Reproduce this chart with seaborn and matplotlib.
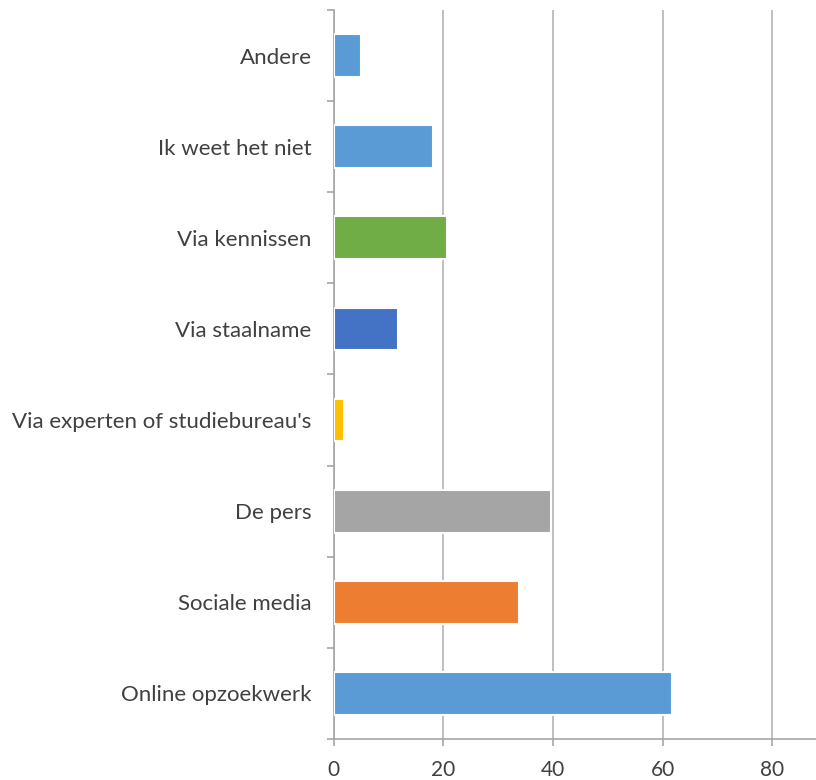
import numpy as np
import pandas as pd
import matplotlib
matplotlib.use("Agg")
import matplotlib.pyplot as plt
import seaborn as sns

# categories top to bottom
categories = ["Andere", "Ik weet het niet", "Via kennissen", "Via staalname",
              "Via experten of studiebureau's", "De pers", "Sociale media",
              "Online opzoekwerk"]
values = [5.0, 18.2, 20.7, 11.7, 1.8, 39.7, 33.8, 61.7]
colors = ["#5B9BD5", "#5B9BD5", "#70AD47", "#4472C4",
          "#FFC000", "#A5A5A5", "#ED7D31", "#5B9BD5"]
x_ticks = [0, 20, 40, 60, 80]

df = pd.DataFrame({"cat": categories, "val": values})

sns.set_style("white")
plt.rcParams["font.family"] = ["Lato", "DejaVu Sans"]

fig = plt.figure(figsize=(8.16, 7.8), dpi=100)
ax = fig.add_axes([0.409, 0.0526, 0.591, 0.9346])

sns.barplot(data=df, x="val", y="cat", hue="cat", palette=colors, order=categories,
            hue_order=categories, orient="h", width=0.47, legend=False,
            edgecolor="white", linewidth=1.5, saturation=1, ax=ax, zorder=3)

ax.set_xlim(0, 88)
ax.set_ylim(7.5, -0.5)
ax.set_xticks(x_ticks)
ax.xaxis.grid(True, color="#BFBFBF", linewidth=1.4, zorder=0)
ax.set_axisbelow(True)

ax.set_yticks(np.arange(-0.5, 8, 1), minor=True)
ax.tick_params(axis="y", which="major", length=0, pad=16, labelsize=16, labelcolor="#404040")
ax.tick_params(axis="y", which="minor", length=5, width=1.2, color="#A6A6A6", left=True)
ax.tick_params(axis="x", which="major", length=5, width=1.2, color="#A6A6A6",
               bottom=True, pad=10, labelsize=15, labelcolor="#404040")

for s in ["top", "right"]:
    ax.spines[s].set_visible(False)
for s in ["left", "bottom"]:
    ax.spines[s].set_color("#A6A6A6")
    ax.spines[s].set_linewidth(1.2)

ax.set_xlabel("")
ax.set_ylabel("")

fig.savefig("out.png", dpi=100)
